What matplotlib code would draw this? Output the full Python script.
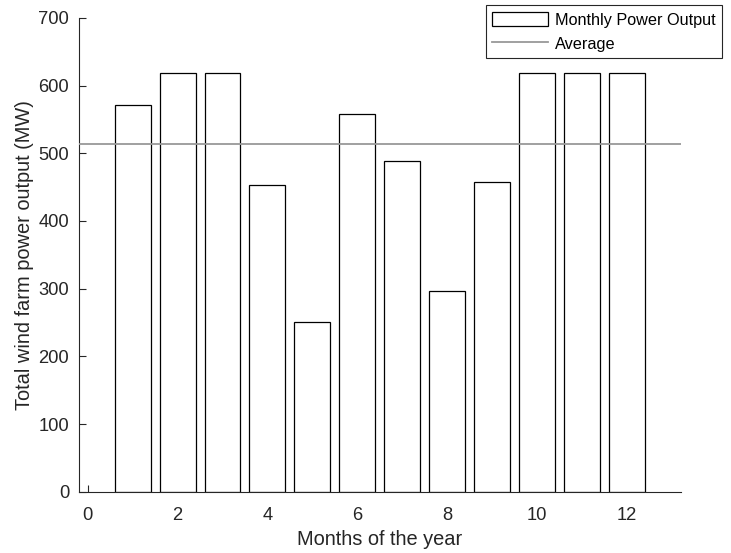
import matplotlib.pyplot as plt
import numpy as np

# Datos: potencia mensual del parque eólico (MW)
meses = np.arange(1, 13)
potencia = [571, 619, 619, 453, 251, 558, 488, 297, 458, 619, 619, 619]
promedio = np.mean(potencia)

plt.rcParams['font.family'] = ['Liberation Sans', 'DejaVu Sans']

fig = plt.figure(figsize=(7.31, 5.53), dpi=100)
ax = fig.add_axes([0.1077, 0.1109, 0.8235, 0.8566])

barras = ax.bar(meses, potencia, width=0.8, color='white', edgecolor='black',
                linewidth=0.9, label='Monthly Power Output', zorder=2)
linea, = ax.plot([-0.2, 13.2], [promedio, promedio], color='#999999',
                 linewidth=1.3, label='Average', zorder=3)

ax.set_xlim(-0.2, 13.2)
ax.set_ylim(0, 700)
ax.set_xticks([0, 2, 4, 6, 8, 10, 12])
ax.set_yticks(np.arange(0, 701, 100))

for lado in ['top', 'right']:
    ax.spines[lado].set_visible(False)
for lado in ['left', 'bottom']:
    ax.spines[lado].set_color('#262626')
    ax.spines[lado].set_linewidth(0.8)

ax.tick_params(direction='in', length=5, width=0.8, color='#262626',
               labelcolor='#262626', labelsize=13.2)
ax.tick_params(axis='x', pad=11)
ax.tick_params(axis='y', pad=7)

ax.set_xlabel('Months of the year', fontsize=14.4, color='#262626', labelpad=4)
ax.set_ylabel('Total wind farm power output (MW)', fontsize=14.4, color='#262626', labelpad=3)

ley = ax.legend(handles=[barras, linea], loc='upper right',
                bbox_to_anchor=(721.7 / 731, 1 - 5.3 / 553),
                bbox_transform=fig.transFigure, borderaxespad=0,
                fancybox=False, shadow=False, framealpha=1, edgecolor='#262626',
                fontsize=11.7, handlelength=3.4, handleheight=1.0,
                borderpad=0.4, labelspacing=0.5, handletextpad=0.43)
ley.get_frame().set_linewidth(0.8)

fig.savefig('out.png', dpi=100)
